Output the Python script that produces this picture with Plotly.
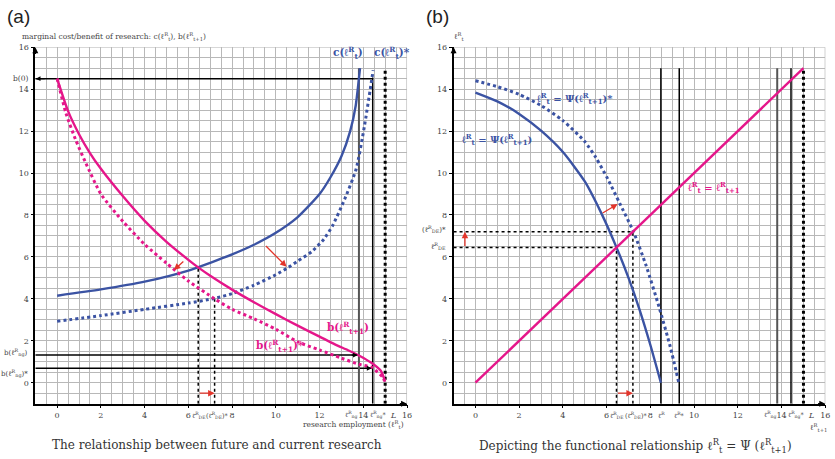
import plotly.graph_objects as go

# ---------------- data ----------------
# Panel (a): marginal cost c and benefit b curves
c_x = [0, 2, 4, 6, 7, 8, 9, 10, 11, 12, 12.5, 13, 13.4, 13.65, 13.85]
c_y = [4.15, 4.45, 4.82, 5.35, 5.72, 6.12, 6.58, 7.15, 7.9, 9.0, 9.8, 10.8, 12.0, 13.2, 15.0]
cs_x = [0, 2, 4, 6, 7.2, 8, 9, 10, 10.57, 11, 11.63, 12.2, 12.6, 13.15, 13.67, 14.05, 14.45]
cs_y = [2.93, 3.2, 3.5, 3.8, 4.02, 4.25, 4.65, 5.15, 5.5, 5.8, 6.24, 6.85, 7.5, 8.76, 10.18, 12.23, 14.9]
b_x = [0, 0.5, 1, 1.5, 2, 3, 4, 5, 6, 6.45, 7, 8, 9, 10, 11, 12, 12.7, 13.3, 13.8, 14.35, 14.8, 15]
b_y = [14.5, 12.95, 11.85, 10.95, 10.2, 8.9, 7.72, 6.72, 5.86, 5.5, 5.1, 4.44, 3.84, 3.27, 2.72, 2.2, 1.83, 1.55, 1.3, 0.96, 0.57, 0.05]
bs_x = [0, 0.4, 0.84, 1.3, 2, 3, 4, 5, 6, 7.2, 8, 9, 10, 11, 12, 13, 13.8, 14.4, 14.9, 15]
bs_y = [14.5, 12.86, 11.6, 10.5, 9.0, 7.7, 6.6, 5.7, 4.85, 4.0, 3.5, 3.05, 2.55, 1.95, 1.56, 1.17, 0.88, 0.72, 0.25, 0.0]

# Panel (b): Psi curves and 45-degree line
psi_x = [0, 1, 2, 3, 4, 5, 5.75, 6.44, 7, 7.5, 8, 8.48]
psi_y = [13.84, 13.42, 12.82, 12.02, 11.0, 9.6, 8.1, 6.48, 5.0, 3.5, 1.8, 0.0]
psis_x = [0, 1, 2, 3, 4, 5, 5.5, 6.06, 6.6, 7.23, 7.8, 8.4, 8.9, 9.3]
psis_y = [14.4, 14.12, 13.75, 13.22, 12.5, 11.5, 10.75, 9.7, 8.55, 7.19, 5.6, 3.6, 1.75, 0.0]
diag_x = [0, 15]
diag_y = [0, 15]

# key values
l_de, l_de_s = 6.45, 7.2
y_de_a, y_de_s_a = 5.5, 4.0
l_bar, l_bar_s = 8.48, 9.32
l_ng, l_ng_s = 13.8, 14.43
L_val = 15
b0 = 14.5
b_ng, b_ng_s = 1.32, 0.69
num_ticks = [0, 2, 4, 6, 8, 10, 12, 14, 16]
num_labels = ["0", "2", "4", "6", "8", "10", "12", "14", "16"]

# ---------------- style ----------------
BLUE = "#3b53a3"
PINK = "#e5168a"
RED = "#e3342a"
GRID = "#b8b8b8"
SERIF = "DejaVu Serif"
TXT = "#444444"

fig = go.Figure()

def line(x, y, color, dash="solid", width=2.4, ax="a"):
    xa, ya = ("x", "y") if ax == "a" else ("x2", "y2")
    fig.add_trace(go.Scatter(x=x, y=y, mode="lines", xaxis=xa, yaxis=ya,
                             line=dict(color=color, dash=dash, width=width, shape="spline", smoothing=0.6),
                             hoverinfo="skip", showlegend=False))

def seg(x0, y0, x1, y1, color="black", dash="solid", width=1.5, ax="a"):
    xa, ya = ("x", "y") if ax == "a" else ("x2", "y2")
    fig.add_trace(go.Scatter(x=[x0, x1], y=[y0, y1], mode="lines", xaxis=xa, yaxis=ya,
                             line=dict(color=color, dash=dash, width=width),
                             hoverinfo="skip", showlegend=False))

# ---- panel (a) reference lines
seg(-1, b0, l_ng_s, b0)
seg(-1, b_ng, l_ng, b_ng)
seg(-1, b_ng_s, l_ng_s, b_ng_s)
seg(l_ng, -1, l_ng, 15, color="#555555", width=2)
seg(l_ng_s, -1, l_ng_s, b0 + 0.05)
seg(L_val, -1, L_val, 15, dash="dot", width=3)
seg(l_de, -1, l_de, y_de_a, dash="dot", width=1.5)
seg(l_de_s, -1, l_de_s, y_de_s_a, dash="dot", width=1.5)

line(c_x, c_y, BLUE)
line(cs_x, cs_y, BLUE, dash="dot", width=3)
line(b_x, b_y, PINK)
line(bs_x, bs_y, PINK, dash="dot", width=3)

# ---- panel (b) reference lines
for xv, col, w, d in [(l_bar, "black", 1.5, "solid"), (l_bar_s, "black", 1.5, "solid"),
                      (l_ng, "#555555", 2, "solid"), (l_ng_s, "black", 1.5, "solid"),
                      (L_val, "black", 3, "dot")]:
    seg(xv, -1, xv, 15, color=col, width=w, dash=d, ax="b")
seg(-1, l_de, l_de, l_de, dash="dot", width=1.5, ax="b")
seg(-1, l_de_s, l_de_s, l_de_s, dash="dot", width=1.5, ax="b")
seg(l_de, -1, l_de, l_de, dash="dot", width=1.5, ax="b")
seg(l_de_s, -1, l_de_s, l_de_s, dash="dot", width=1.5, ax="b")

line(psi_x, psi_y, BLUE, ax="b")
line(psis_x, psis_y, BLUE, dash="dot", width=3, ax="b")
fig.add_trace(go.Scatter(x=diag_x, y=diag_y, mode="lines", xaxis="x2", yaxis="y2",
                         line=dict(color=PINK, width=2.4), hoverinfo="skip", showlegend=False))

# ---------------- annotations ----------------
ann = []

def arrow(x0, y0, x1, y1, xr="x", yr="y", color=RED, width=1.3, head=2, size=1):
    ann.append(dict(x=x1, y=y1, ax=x0, ay=y0, xref=xr, yref=yr, axref=xr, ayref=yr,
                    showarrow=True, arrowhead=head, arrowsize=size, arrowwidth=width,
                    arrowcolor=color, text=""))

def text(x, y, s, xr="x", yr="y", size=8, color=TXT, xanchor="center", yanchor="middle", family=SERIF):
    ann.append(dict(x=x, y=y, xref=xr, yref=yr, text=s, showarrow=False,
                    font=dict(size=size, color=color, family=family),
                    xanchor=xanchor, yanchor=yanchor))

# red arrows
arrow(5.84, 5.85, 5.34, 5.37)
arrow(9.48, 6.59, 10.49, 5.53)
arrow(l_de, -0.5, l_de_s, -0.5)
arrow(5.75, 8.05, 6.5, 8.52, "x2", "y2")
arrow(l_de, -0.5, l_de_s, -0.5, "x2", "y2")
arrow(-0.48, l_de, -0.48, l_de_s, "x2", "y2")

# small black arrowheads
arrow(-0.5, b0, -0.98, b0, color="black", width=1.2, size=0.8)
arrow(13.4, b_ng, l_ng - 0.05, b_ng, color="black", width=1.2, size=0.8)
arrow(14.0, b_ng_s, l_ng_s - 0.05, b_ng_s, color="black", width=1.2, size=0.8)

# axis arrows
for xr, yr in [("x", "y"), ("x2", "y2")]:
    arrow(15.6, -1, 16.0, -1, xr, yr, color="black", width=1.5, size=0.8)
    arrow(-1, 15.6, -1, 16.0, xr, yr, color="black", width=1.5, size=0.8)

# curve labels
text(13.3, 15.72, "<b>c(ℓ<sup>R</sup><sub>t</sub>)</b>", size=10.5, color=BLUE)
text(15.3, 15.72, "<b>c(ℓ<sup>R</sup><sub>t</sub>)*</b>", size=10.5, color=BLUE)
text(13.3, 2.6, "<b>b(ℓ<sup>R</sup><sub>t+1</sub>)</b>", size=10.5, color=PINK)
text(10.2, 1.75, "<b>b(ℓ<sup>R</sup><sub>t+1</sub>)*</b>", size=10.5, color=PINK)
text(4.55, 13.55, "<b>ℓ<sup>R</sup><sub>t</sub> = Ψ(ℓ<sup>R</sup><sub>t+1</sub>)*</b>", "x2", "y2", size=10, color=BLUE)
text(1.0, 11.6, "<b>ℓ<sup>R</sup><sub>t</sub> = Ψ(ℓ<sup>R</sup><sub>t+1</sub>)</b>", "x2", "y2", size=10, color=BLUE)
text(10.9, 9.3, "<b>ℓ<sup>R</sup><sub>t</sub> = ℓ<sup>R</sup><sub>t+1</sub></b>", "x2", "y2", size=10, color=PINK)

# special tick labels (x axes), y in paper units just below the axis
YLAB = 1 - 415 / 459
for xr in ["x", "x2"]:
    text(6.47, YLAB, "ℓ̂<sup>R</sup><sub>DE</sub>", xr, "paper", size=6.5)
    text(7.35, YLAB, "(ℓ̂<sup>R</sup><sub>DE</sub>)*", xr, "paper", size=6.5)
    text(13.45, YLAB, "ℓ̄<sup>R</sup><sub>ng</sub>", xr, "paper", size=6.5)
    text(14.68, YLAB, "ℓ̄<sup>R</sup><sub>ng</sub>*", xr, "paper", size=6.5)
    text(15.35, YLAB, "<i>L</i>", xr, "paper", size=8)
text(l_bar + 0.05, YLAB, "ℓ̄<sup>R</sup>", "x2", "paper", size=6.5)
text(l_bar_s, YLAB, "ℓ̄<sup>R</sup>*", "x2", "paper", size=6.5)

# special tick labels (y axes), x in paper units just left of the axis
XA = 30 / 835
XB = 451 / 835
text(XA, b0, "b(0)", "paper", "y", size=7.5, xanchor="right")
text(XA, b_ng + 0.12, "b(ℓ̄<sup>R</sup><sub>ng</sub>)", "paper", "y", size=7, xanchor="right")
text(XA, b_ng_s - 0.25, "b(ℓ̄<sup>R</sup><sub>ng</sub>)*", "paper", "y", size=7, xanchor="right")
text(XB, l_de_s + 0.15, "(ℓ̂<sup>R</sup><sub>DE</sub>)*", "paper", "y2", size=7, xanchor="right")
text(XB, l_de + 0.05, "ℓ̂<sup>R</sup><sub>DE</sub>", "paper", "y2", size=7, xanchor="right")

# titles
text(0.006, 0.972, "(a)", "paper", "paper", size=19, color="#222", xanchor="left", family="Liberation Sans")
text(0.511, 0.972, "(b)", "paper", "paper", size=19, color="#222", xanchor="left", family="Liberation Sans")
text(0.024, 0.928, "marginal cost/benefit of research: c(ℓ<sup>R</sup><sub>t</sub>), b(ℓ<sup>R</sup><sub>t+1</sub>)",
     "paper", "paper", size=7.5, xanchor="left")
text(0.545, 0.928, "ℓ<sup>R</sup><sub>t</sub>", "paper", "paper", size=7.5, xanchor="left")
text(0.489, 0.075, "research employment (ℓ<sup>R</sup><sub>t</sub>)", "paper", "paper", size=7.5, xanchor="right")
text(0.999, 0.07, "ℓ<sup>R</sup><sub>t+1</sub>", "paper", "paper", size=7.5, xanchor="right")
text(0.262, 0.031, "The relationship between future and current research", "paper", "paper", size=12, color="#333")
text(0.766, 0.028, "Depicting the functional relationship ℓ<sup>R</sup><sub>t</sub> = Ψ (ℓ<sup>R</sup><sub>t+1</sub>)",
     "paper", "paper", size=12, color="#333")

axis_common = dict(range=[-1, 16], showgrid=False, zeroline=False,
                   showline=True, linecolor="black", linewidth=1.5,
                   ticks="outside", ticklen=3, tickcolor="black", tickwidth=1,
                   tickmode="array", tickvals=num_ticks, ticktext=num_labels,
                   tickfont=dict(size=8, color=TXT, family=SERIF),
                   minor=dict(tickmode="linear", tick0=0, dtick=0.5, showgrid=True,
                              gridcolor=GRID, gridwidth=1.3, ticks=""),
                   fixedrange=True)

fig.update_layout(
    width=835, height=459,
    margin=dict(l=0, r=0, t=0, b=0),
    paper_bgcolor="white", plot_bgcolor="white",
    xaxis=dict(axis_common, domain=[35.5 / 835, 409.5 / 835], anchor="y"),
    yaxis=dict(axis_common, domain=[1 - 403.2 / 459, 1 - 43.6 / 459], anchor="x"),
    xaxis2=dict(axis_common, domain=[456.3 / 835, 830.3 / 835], anchor="y2"),
    yaxis2=dict(axis_common, domain=[1 - 403.2 / 459, 1 - 43.6 / 459], anchor="x2"),
    annotations=ann,
    showlegend=False,
)

# frame of the grid (top and right edges at 16)
for xr, yr in [("x", "y"), ("x2", "y2")]:
    fig.add_shape(type="line", xref=xr, yref=yr, x0=-1, x1=16, y0=16, y1=16, line=dict(color=GRID, width=1.3), layer="below")
    fig.add_shape(type="line", xref=xr, yref=yr, x0=16, x1=16, y0=-1, y1=16, line=dict(color=GRID, width=1.3), layer="below")

fig.write_html("out.html", config={"displayModeBar": False},
               post_script="document.body.style.margin='0px';document.body.style.overflow='hidden';")
